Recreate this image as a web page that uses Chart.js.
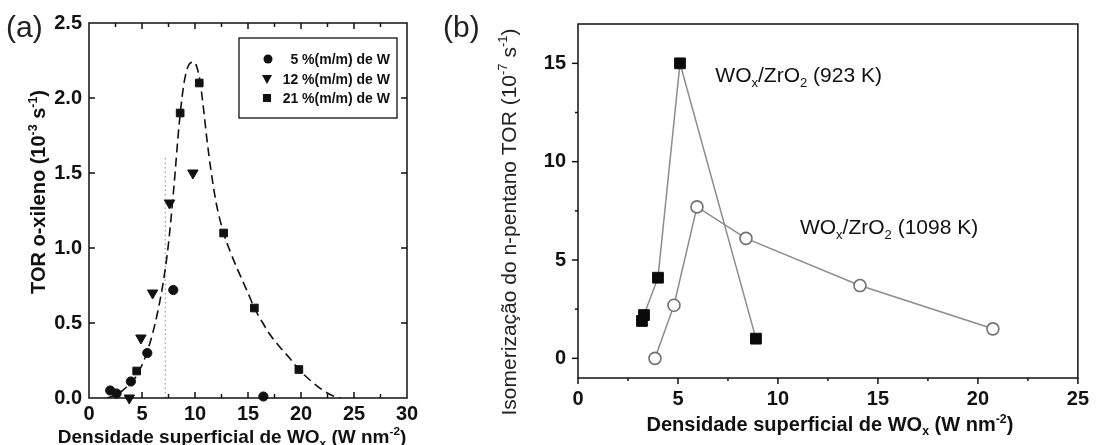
<!DOCTYPE html>
<html>
<head>
<meta charset="utf-8">
<script src="https://cdn.jsdelivr.net/npm/chart.js@4"></script>
<style>
  html, body { margin: 0; padding: 0; background: #fff; }
  #wrap { position: relative; width: 1098px; height: 445px; overflow: hidden; }
  #chartA { position: absolute; left: 0; top: 0; }
  #chartB { position: absolute; left: 430px; top: 0; }
</style>
</head>
<body>
<div id="wrap">
  <canvas id="chartA" width="430" height="445"></canvas>
  <canvas id="chartB" width="668" height="445"></canvas>
</div>
<script>
// ---- panel (a): TOR o-xileno vs densidade superficial ----
const xTicksA = [0, 5, 10, 15, 20, 25, 30];
const yTicksA = [0, 0.5, 1.0, 1.5, 2.0, 2.5];
const w5X = [2.0, 2.6, 3.95, 5.5, 7.95, 16.45];
const w5Y = [0.05, 0.03, 0.11, 0.30, 0.72, 0.01];
const w12X = [3.8, 4.9, 6.0, 7.6, 9.8];
const w12Y = [0.0, 0.40, 0.70, 1.30, 1.50];
const w21X = [4.5, 8.6, 10.4, 12.7, 15.6, 19.8];
const w21Y = [0.18, 1.90, 2.10, 1.10, 0.60, 0.19];
// dashed guide curve
const fitX = [1.7, 2.8, 3.5, 4.0, 4.5, 5.0, 5.5, 6.0, 6.5, 7.0, 7.5, 8.0, 8.5, 8.9, 9.2, 9.5, 9.9, 10.2, 10.5, 10.8, 11.1, 11.5, 12.0, 12.7, 13.3, 14.0, 15.0, 15.6, 16.4, 17.0, 18.0, 19.0, 19.8, 21.0, 22.0, 23.0, 23.7];
const fitY = [0.0, 0.03, 0.07, 0.10, 0.15, 0.22, 0.31, 0.43, 0.58, 0.77, 1.03, 1.40, 1.82, 2.07, 2.18, 2.23, 2.24, 2.20, 2.10, 1.93, 1.74, 1.52, 1.30, 1.10, 0.98, 0.86, 0.70, 0.60, 0.50, 0.43, 0.34, 0.26, 0.19, 0.11, 0.055, 0.015, 0.0];
const markX = [7.2, 7.2];
const markY = [0, 1.6];
const legendA = ['5 %(m/m) de W', '12 %(m/m) de W', '21 %(m/m) de W'];

// ---- panel (b): isomerizacao do n-pentano ----
const xTicksB = [0, 5, 10, 15, 20, 25];
const yTicksB = [0, 5, 10, 15];
const k923X = [3.2, 3.3, 4.0, 5.1, 8.9];
const k923Y = [1.9, 2.2, 4.1, 15.0, 1.0];
const k1098X = [3.85, 4.8, 5.95, 8.4, 14.1, 20.75];
const k1098Y = [0.0, 2.7, 7.7, 6.1, 3.7, 1.5];

const FONT = '"Liberation Sans", Arial, Helvetica, sans-serif';
const pts = (xs, ys) => xs.map((x, i) => ({ x: x, y: ys[i] }));

// draws a string made of pieces, some as sub/superscript
function drawRich(ctx, parts, x, y, size, weight, align, rot) {
  const small = size * 0.62;
  const font = s => weight + ' ' + s + 'px ' + FONT;
  let w = 0;
  parts.forEach(p => { ctx.font = font(p[1] ? small : size); w += ctx.measureText(p[0]).width; });
  ctx.save();
  ctx.translate(x, y);
  if (rot) ctx.rotate(rot);
  ctx.textAlign = 'left';
  ctx.textBaseline = 'alphabetic';
  let cx = align === 'center' ? -w / 2 : 0;
  parts.forEach(p => {
    ctx.font = font(p[1] ? small : size);
    const dy = p[1] === 'sup' ? -size * 0.42 : p[1] === 'sub' ? size * 0.22 : 0;
    ctx.fillText(p[0], cx, dy);
    cx += ctx.measureText(p[0]).width;
  });
  ctx.restore();
}

function line(ctx, x1, y1, x2, y2) {
  ctx.beginPath(); ctx.moveTo(x1, y1); ctx.lineTo(x2, y2); ctx.stroke();
}

const tickFont = { family: FONT, size: 20, weight: 'bold' };

// ---------------- chart (a) ----------------
const decorA = {
  id: 'decorA',
  afterDraw(chart) {
    const { ctx, chartArea: a, scales: { x, y } } = chart;
    ctx.save();
    ctx.strokeStyle = '#111';
    ctx.lineWidth = 1.5;
    ctx.strokeRect(a.left, a.top, a.right - a.left, a.bottom - a.top);
    // inward ticks
    for (let v = 2.5; v < 30; v += 2.5) {
      const px = x.getPixelForValue(v);
      const len = v % 5 === 0 ? 6 : 4;
      line(ctx, px, a.bottom, px, a.bottom - len);
      line(ctx, px, a.top, px, a.top + len);
    }
    for (let v = 0.5; v < 2.5; v += 0.5) {
      const py = y.getPixelForValue(v);
      line(ctx, a.left, py, a.left + 6, py);
      line(ctx, a.right, py, a.right - 6, py);
    }
    // legend box
    ctx.lineWidth = 1.3;
    ctx.strokeRect(239, 38, 158, 80);
    ctx.fillStyle = '#111';
    const rows = [59, 79, 98];
    ctx.beginPath(); ctx.arc(268, rows[0], 4.5, 0, Math.PI * 2); ctx.fill();
    ctx.beginPath(); ctx.moveTo(267, rows[1] + 5); ctx.lineTo(262, rows[1] - 4); ctx.lineTo(272, rows[1] - 4); ctx.closePath(); ctx.fill();
    ctx.fillRect(263, rows[2] - 4, 8, 8);
    ctx.font = 'bold 14px ' + FONT;
    ctx.textAlign = 'right';
    ctx.textBaseline = 'middle';
    legendA.forEach((t, i) => ctx.fillText(t, 390, rows[i] + 1));
    // panel label and axis titles
    ctx.fillStyle = '#222';
    ctx.font = '30px ' + FONT;
    ctx.textAlign = 'left';
    ctx.textBaseline = 'alphabetic';
    ctx.fillText('(a)', 6, 37);
    ctx.fillStyle = '#111';
    drawRich(ctx, [['Densidade superficial de WO', ''], ['x', 'sub'], [' (W nm', ''], ['-2', 'sup'], [')', '']],
      232, 443, 19, 'bold', 'center', 0);
    drawRich(ctx, [['TOR o-xileno (10', ''], ['-3', 'sup'], [' s', ''], ['-1', 'sup'], [')', '']],
      45, 192, 20, 'bold', 'center', -Math.PI / 2);
    ctx.restore();
  }
};

new Chart(document.getElementById('chartA'), {
  type: 'scatter',
  data: {
    datasets: [
      { data: pts(fitX, fitY), showLine: true, borderColor: '#111', borderWidth: 1.6, borderDash: [9, 5],
        pointRadius: 0, cubicInterpolationMode: 'monotone', fill: false },
      { data: pts(markX, markY), showLine: true, borderColor: '#9a9a9a', borderWidth: 1.2, borderDash: [1.5, 3],
        pointRadius: 0 },
      { label: legendA[0], data: pts(w5X, w5Y), pointStyle: 'circle', pointRadius: 4.6,
        backgroundColor: '#111', borderColor: '#111', clip: false },
      { label: legendA[1], data: pts(w12X, w12Y), pointStyle: 'triangle', rotation: 180, pointRadius: 6,
        backgroundColor: '#111', borderColor: '#111', clip: false },
      { label: legendA[2], data: pts(w21X, w21Y), pointStyle: 'rect', pointRadius: 5.4,
        backgroundColor: '#111', borderColor: '#111', clip: false }
    ]
  },
  options: {
    responsive: false,
    animation: false,
    layout: { padding: { left: 0, right: 23, top: 23, bottom: 0 } },
    plugins: { legend: { display: false }, tooltip: { enabled: false } },
    scales: {
      x: {
        type: 'linear', min: 0, max: 30,
        grid: { display: false, drawTicks: false }, border: { display: false },
        afterBuildTicks: s => { s.ticks = xTicksA.map(v => ({ value: v })); },
        ticks: { font: tickFont, color: '#111', padding: 4, maxRotation: 0 },
        afterFit: s => { s.height = 47; }
      },
      y: {
        type: 'linear', min: 0, max: 2.5,
        grid: { display: false, drawTicks: false }, border: { display: false },
        afterBuildTicks: s => { s.ticks = yTicksA.map(v => ({ value: v })); },
        ticks: { font: tickFont, color: '#111', padding: 7, callback: v => Number(v).toFixed(1) },
        afterFit: s => { s.width = 89; }
      }
    }
  },
  plugins: [decorA]
});

// ---------------- chart (b) ----------------
const decorB = {
  id: 'decorB',
  afterDraw(chart) {
    const { ctx, chartArea: a, scales: { x, y } } = chart;
    ctx.save();
    ctx.strokeStyle = '#111';
    ctx.lineWidth = 1.5;
    ctx.strokeRect(a.left, a.top, a.right - a.left, a.bottom - a.top);
    // outward ticks on bottom and left
    for (let v = 0; v <= 25; v += 2.5) {
      const px = x.getPixelForValue(v);
      line(ctx, px, a.bottom, px, a.bottom + (v % 5 === 0 ? 6 : 3));
    }
    for (let v = 0; v <= 15; v += 2.5) {
      const py = y.getPixelForValue(v);
      line(ctx, a.left, py, a.left - (v % 5 === 0 ? 6 : 3), py);
    }
    ctx.fillStyle = '#222';
    ctx.font = '30px ' + FONT;
    ctx.textAlign = 'left';
    ctx.textBaseline = 'alphabetic';
    ctx.fillText('(b)', 13, 37);
    ctx.fillStyle = '#111';
    drawRich(ctx, [['WO', ''], ['x', 'sub'], ['/ZrO', ''], ['2', 'sub'], [' (923 K)', '']],
      x.getPixelForValue(6.87), 82, 21, 'normal', 'left', 0);
    drawRich(ctx, [['WO', ''], ['x', 'sub'], ['/ZrO', ''], ['2', 'sub'], [' (1098 K)', '']],
      x.getPixelForValue(11.1), 234, 21, 'normal', 'left', 0);
    drawRich(ctx, [['Densidade superficial de WO', ''], ['x', 'sub'], [' (W nm', ''], ['-2', 'sup'], [')', '']],
      (a.left + a.right) / 2 + 2, 431, 20, 'bold', 'center', 0);
    ctx.fillStyle = '#222';
    drawRich(ctx, [['Isomerização do n-pentano TOR (10', ''], ['-7', 'sup'], [' s', ''], ['-1', 'sup'], [')', '']],
      86, 222, 21, 'normal', 'center', -Math.PI / 2);
    ctx.restore();
  }
};

new Chart(document.getElementById('chartB'), {
  type: 'scatter',
  data: {
    datasets: [
      { data: pts(k923X, k923Y), showLine: true, borderColor: '#8c8c8c', borderWidth: 1.5,
        pointStyle: 'rect', pointRadius: 7.6, pointBackgroundColor: '#0a0a0a', pointBorderColor: '#0a0a0a',
        pointBorderWidth: 1, clip: false },
      { data: pts(k1098X, k1098Y), showLine: true, borderColor: '#8c8c8c', borderWidth: 1.5,
        pointStyle: 'circle', pointRadius: 6, pointBackgroundColor: '#fff', pointBorderColor: '#707070',
        pointBorderWidth: 1.6, clip: false }
    ]
  },
  options: {
    responsive: false,
    animation: false,
    layout: { padding: { left: 0, right: 15, top: 23, bottom: 0 } },
    plugins: { legend: { display: false }, tooltip: { enabled: false } },
    scales: {
      x: {
        type: 'linear', min: 0, max: 25,
        grid: { display: false, drawTicks: false }, border: { display: false },
        afterBuildTicks: s => { s.ticks = xTicksB.map(v => ({ value: v })); },
        ticks: { font: tickFont, color: '#111', padding: 9, maxRotation: 0 },
        afterFit: s => { s.height = 67; }
      },
      y: {
        type: 'linear', min: -1, max: 17,
        grid: { display: false, drawTicks: false }, border: { display: false },
        afterBuildTicks: s => { s.ticks = yTicksB.map(v => ({ value: v })); },
        ticks: { font: tickFont, color: '#111', padding: 12 },
        afterFit: s => { s.width = 148; }
      }
    }
  },
  plugins: [decorB]
});
</script>
</body>
</html>
